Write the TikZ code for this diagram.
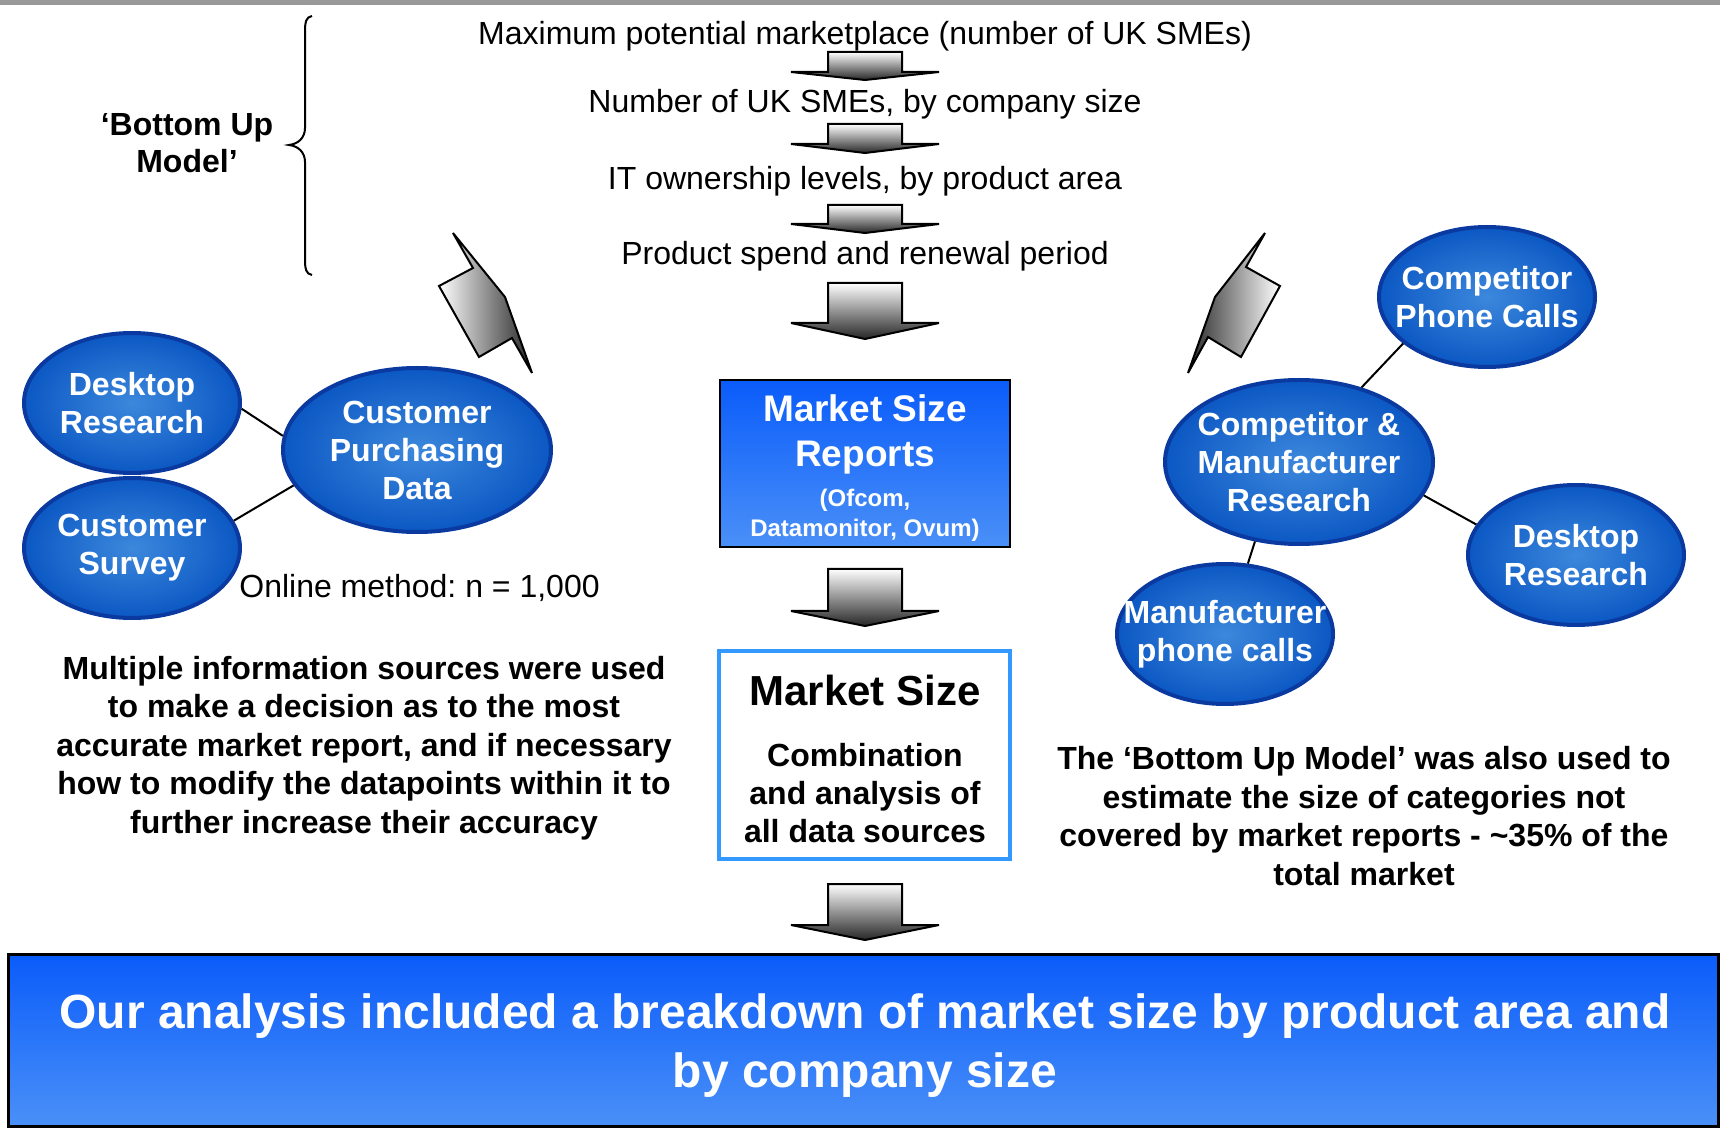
\documentclass[tikz,border=0pt]{standalone}
\usepackage{fontspec}
\setmainfont{Liberation Sans}
\usetikzlibrary{shapes.geometric}

\definecolor{bluetop}{RGB}{10,92,250}
\definecolor{bluebot}{RGB}{74,144,248}
\definecolor{ovalin}{RGB}{60,136,220}
\definecolor{ovalout}{RGB}{12,88,196}
\definecolor{ovalline}{RGB}{10,58,160}
\definecolor{msline}{RGB}{51,153,255}
\definecolor{topbar}{RGB}{153,153,153}

\begin{document}
\begin{tikzpicture}[x=0.5pt,y=-0.5pt,
  oval/.style={ellipse,draw=ovalline,line width=2pt,inner color=ovalin,outer color=ovalout,text=white,inner xsep=-30pt,inner ysep=-15pt,align=center,font=\fontsize{16}{19}\selectfont\bfseries},
  smalloval/.style={oval,minimum width=108pt,minimum height=70pt},
  bigoval/.style={oval,minimum width=134pt,minimum height=82pt},
  flowtext/.style={inner sep=0pt,font=\fontsize{16}{19}\selectfont\frenchspacing},
  boldtext/.style={inner sep=0pt,align=center,font=\fontsize{16}{19.2}\selectfont\bfseries},
  bluebox/.style={draw=black,line width=1pt,top color=bluetop,bottom color=bluebot},
  downarrow/.style={draw=black,line width=1pt,line join=miter,miter limit=1.5,top color=white,bottom color=black!85},
  link/.style={draw=black,line width=1pt}]
\useasboundingbox (0,0) rectangle (1720,1128);
\fill[topbar] (0,0) rectangle (1720,5);

% bottom up model brace
\draw[line width=1pt] (312,16) .. controls (306,17) and (305,22) .. (305,32) -- (305,128)
  .. controls (305,138) and (298,144) .. (289,145) .. controls (298,146) and (305,152) .. (305,162)
  -- (305,259) .. controls (305,269) and (306,274) .. (312,275);
\node[boldtext,font=\fontsize{16}{18.5}\selectfont\bfseries] (bum) at (187,143) {‘Bottom Up\\Model’};

% top chain
\node[flowtext] (maxmkt) at (865,36) {Maximum potential marketplace (number of UK SMEs)};
\node[flowtext] (smes) at (865,104) {Number of UK SMEs, by company size};
\node[flowtext] (itown) at (865,181) {IT ownership levels, by product area};
\node[flowtext] (spend) at (865,256) {Product spend and renewal period};
\path[downarrow] (828,52) -- (902,52) -- (902,72) -- (939,72) -- (865,80) -- (791,72) -- (828,72) -- cycle;
\path[downarrow] (828,124) -- (902,124) -- (902,144) -- (939,144) -- (865,153) -- (791,144) -- (828,144) -- cycle;
\path[downarrow] (828,205) -- (902,205) -- (902,224) -- (939,224) -- (865,233) -- (791,224) -- (828,224) -- cycle;
\path[downarrow] (828,283) -- (902,283) -- (902,323) -- (939,323) -- (865,339) -- (791,323) -- (828,323) -- cycle;

% market size reports
\node[bluebox,minimum width=145pt,minimum height=83.5pt] (msr) at (865,463.5) {};
\node[inner sep=0pt,align=center,text=white,font=\fontsize{18.5}{22.5}\selectfont\bfseries] (msrtitle) at (865,434) {Market Size\\Reports};
\node[inner sep=0pt,align=center,text=white,font=\fontsize{12}{15}\selectfont\bfseries] (msrsrc) at (865,515) {(Ofcom,\\Datamonitor, Ovum)};
\path[downarrow] (828,569) -- (902,569) -- (902,611) -- (939,611) -- (865,626) -- (791,611) -- (828,611) -- cycle;

% market size
\node[draw=msline,line width=2pt,fill=white,minimum width=145.5pt,minimum height=104pt] (ms) at (864.5,755) {};
\node[inner sep=0pt,font=\fontsize{21}{25}\selectfont\bfseries] (mstitle) at (865,690) {Market Size};
\node[boldtext] (mstext) at (865,793) {Combination\\and analysis of\\all data sources};
\path[downarrow] (828,884) -- (902,884) -- (902,925) -- (939,925) -- (865,940) -- (791,925) -- (828,925) -- cycle;

% summary banner
\node[bluebox,line width=1.5pt,minimum width=855pt,minimum height=86pt] (summary) at (863,1040) {};
\node[inner sep=0pt,align=center,text=white,font=\fontsize{24}{29.5}\selectfont\bfseries] (summarytext) at (865,1046)
  {Our analysis included a breakdown of market size by product area and\\by company size};

% left sources
\node[smalloval] (deskl) at (132,403) {Desktop\\Research};
\node[smalloval] (survey) at (132,548) {Customer\\Survey};
\node[bigoval] (purch) at (417,450) {Customer\\Purchasing\\Data};
\draw[link] (deskl.-3) -- (purch.174);
\draw[link] (survey.15) -- (purch.196);
\node[flowtext,anchor=west] (online) at (239,588) {Online method: n = 1,000};
\path[draw=black,line width=1pt,line join=miter,miter limit=1.5,left color=white,right color=black!85]
  (453,233) -- (473,268) -- (439,286) -- (479,357) -- (512,338) -- (532,373) -- (505,297) -- cycle;
\node[boldtext] (leftnote) at (364,748) {Multiple information sources were used\\to make a decision as to the most\\accurate market report, and if necessary\\how to modify the datapoints within it to\\further increase their accuracy};

% right sources
\node[smalloval] (compcalls) at (1487,297) {Competitor\\Phone Calls};
\node[bigoval] (compman) at (1299,462) {Competitor \&\\Manufacturer\\Research};
\node[smalloval] (deskr) at (1576,555) {Desktop\\Research};
\node[smalloval] (mancalls) at (1225,634) {Manufacturer\\phone calls};
\draw[link] (compcalls.209) -- (compman.50);
\draw[link] (compman.345) -- (deskr.163);
\draw[link] (compman.241) -- (mancalls.72);
\path[draw=black,line width=1pt,line join=miter,miter limit=1.5,left color=black!85,right color=white]
  (1265,233) -- (1246,267) -- (1280,286) -- (1241,357) -- (1208,337) -- (1188,373) -- (1215,297) -- cycle;
\node[boldtext] (rightnote) at (1364,816) {The ‘Bottom Up Model’ was also used to\\estimate the size of categories not\\covered by market reports - \textasciitilde35\% of the\\total market};
\end{tikzpicture}
\end{document}
